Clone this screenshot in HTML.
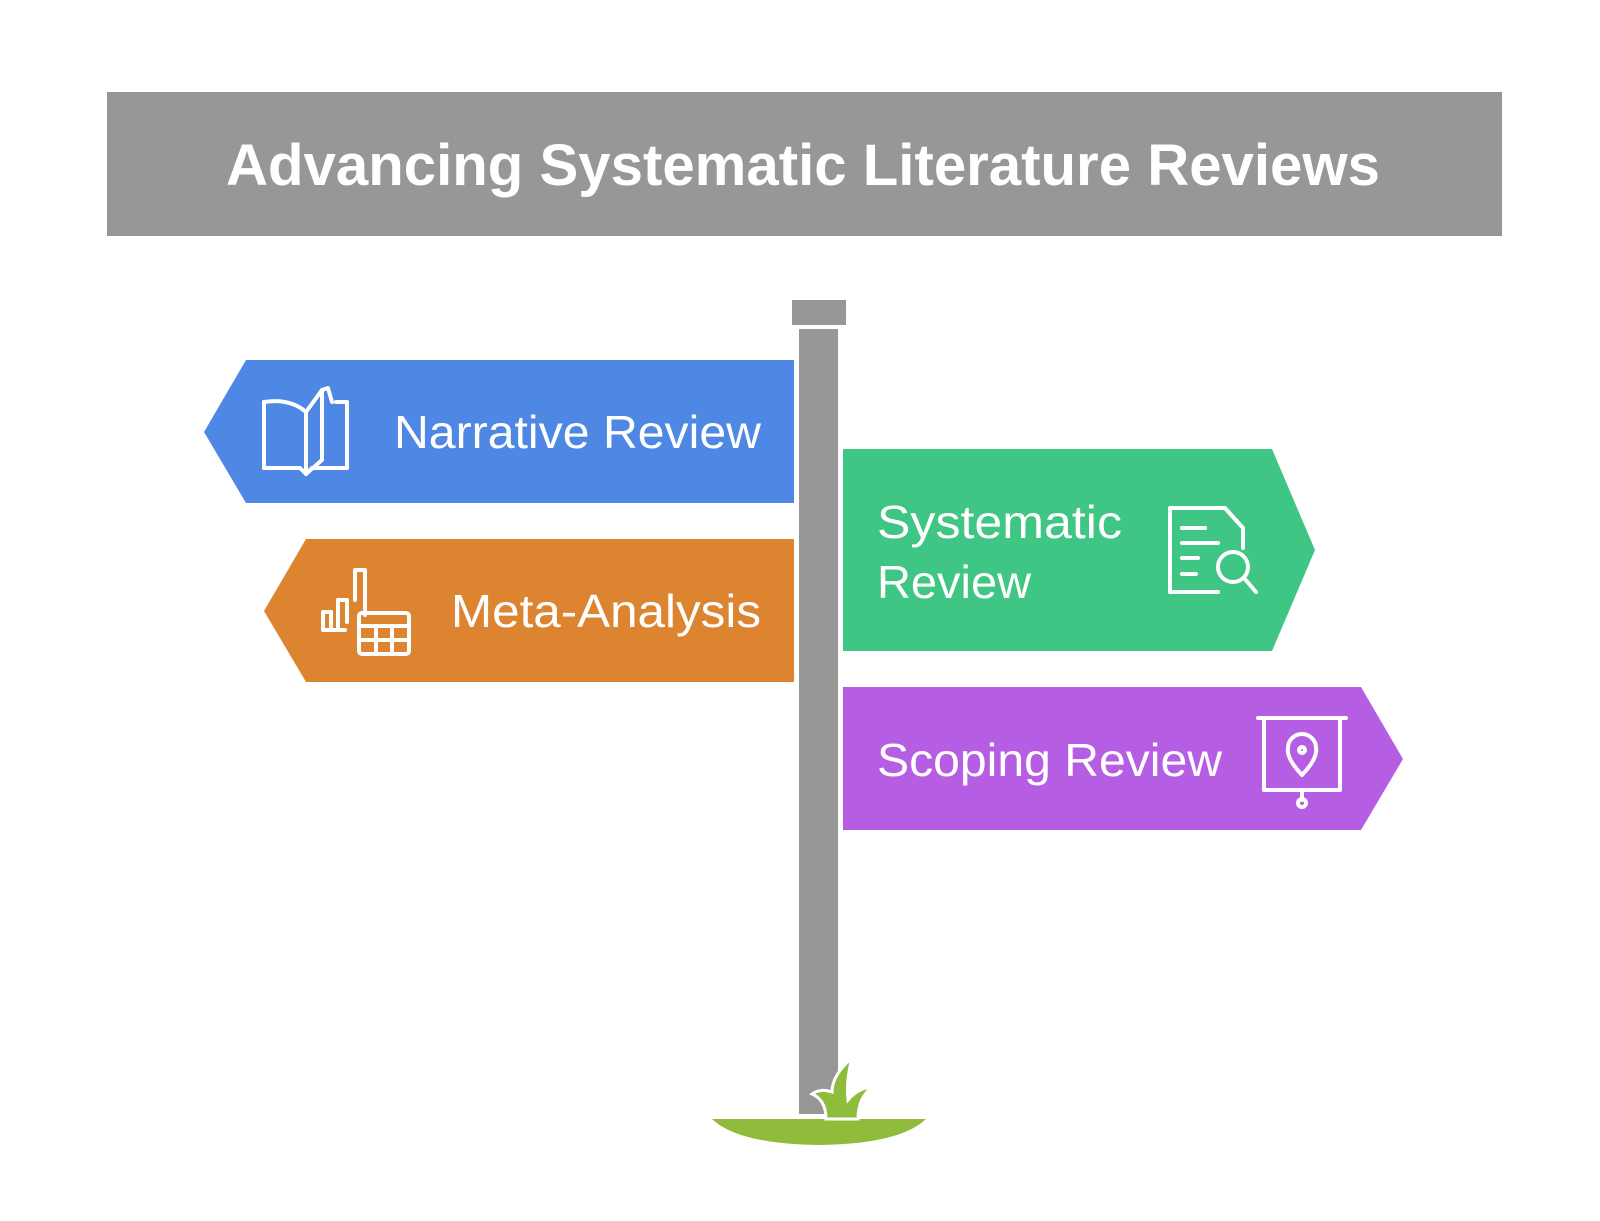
<!DOCTYPE html>
<html><head><style>html,body{margin:0;padding:0;background:#fff}svg{display:block}</style></head>
<body>
<svg width="1600" height="1221" viewBox="0 0 1600 1221" xmlns="http://www.w3.org/2000/svg" font-family="'Liberation Sans', sans-serif">
<rect x="107" y="92" width="1395" height="144" fill="#979797"/>
<text x="226" y="185" font-size="58" font-weight="bold" fill="#fff" textLength="1154" lengthAdjust="spacingAndGlyphs">Advancing Systematic Literature Reviews</text>
<rect x="792" y="300" width="54" height="25" fill="#979797"/>
<rect x="799" y="329" width="39" height="785" fill="#979797"/>
<path d="M712 1119 L926 1119 Q900 1144 819 1145 Q738 1144 712 1119 Z" fill="#8fbc3a"/>
<path d="M826 1119 Q826 1100 812 1094 Q820 1088 832 1092 Q832 1075 852 1058 Q846 1080 848 1100 Q858 1088 872 1087 Q858 1098 858 1119 Z" fill="#8fbc3a" stroke="#fff" stroke-width="3"/>
<polygon points="246,360 794,360 794,503 246,503 204,432" fill="#4f88e4"/>
<polygon points="306,539 794,539 794,682 306,682 264,611" fill="#dd8431"/>
<polygon points="843,449 1272,449 1315,550 1272,651 843,651" fill="#3fc584"/>
<polygon points="843,687 1361,687 1403,759 1361,830 843,830" fill="#b65ee3"/>
<g fill="#fff" font-size="46">
<text x="394" y="448" textLength="367" lengthAdjust="spacingAndGlyphs">Narrative Review</text>
<text x="451" y="627" textLength="310" lengthAdjust="spacingAndGlyphs">Meta-Analysis</text>
<text x="877" y="538" textLength="245" lengthAdjust="spacingAndGlyphs">Systematic</text>
<text x="877" y="598" textLength="154" lengthAdjust="spacingAndGlyphs">Review</text>
<text x="877" y="776" textLength="345" lengthAdjust="spacingAndGlyphs">Scoping Review</text>
</g>
<g fill="none" stroke="#fff" stroke-width="4" stroke-linejoin="round" stroke-linecap="round">
<path d="M264 402 L264 468 L300 468 L306 474 L312 468 L347 468 L347 402 L336 402"/>
<path d="M264 402 Q290 398 306 412 L306 474"/>
<path d="M306 412 L322 390 L322 460 L306 474"/>
<path d="M322 390 L328 388 L332 402"/>
<path d="M323 612 L323 630 L331 630 L331 612 Z M323 630 L345 630 M338 630 L338 600 L347 600 L347 622 M355 600 L355 570 L365 570 L365 615"/>
<rect x="359" y="613" width="50" height="41" rx="3"/>
<path d="M359 626 L409 626 M359 640 L409 640 M376 626 L376 654 M392 626 L392 654"/>
<path d="M1218 592 L1170 592 L1170 508 L1225 508 L1243 528 L1243 548"/>
<path d="M1182 528 L1205 528 M1182 543 L1218 543 M1182 558 L1198 558 M1182 574 L1196 574"/>
<circle cx="1233" cy="567" r="15"/><path d="M1244 578 L1256 592"/>
<path d="M1258 718 L1346 718 M1264 718 L1264 790 L1340 790 L1340 718 M1302 790 L1302 800"/>
<circle cx="1302" cy="803" r="4"/>
<path d="M1302 775 Q1286 758 1288 748 A14 14 0 1 1 1316 748 Q1318 758 1302 775 Z"/>
<circle cx="1302" cy="750" r="3"/>
</g>
</svg>
</body></html>
